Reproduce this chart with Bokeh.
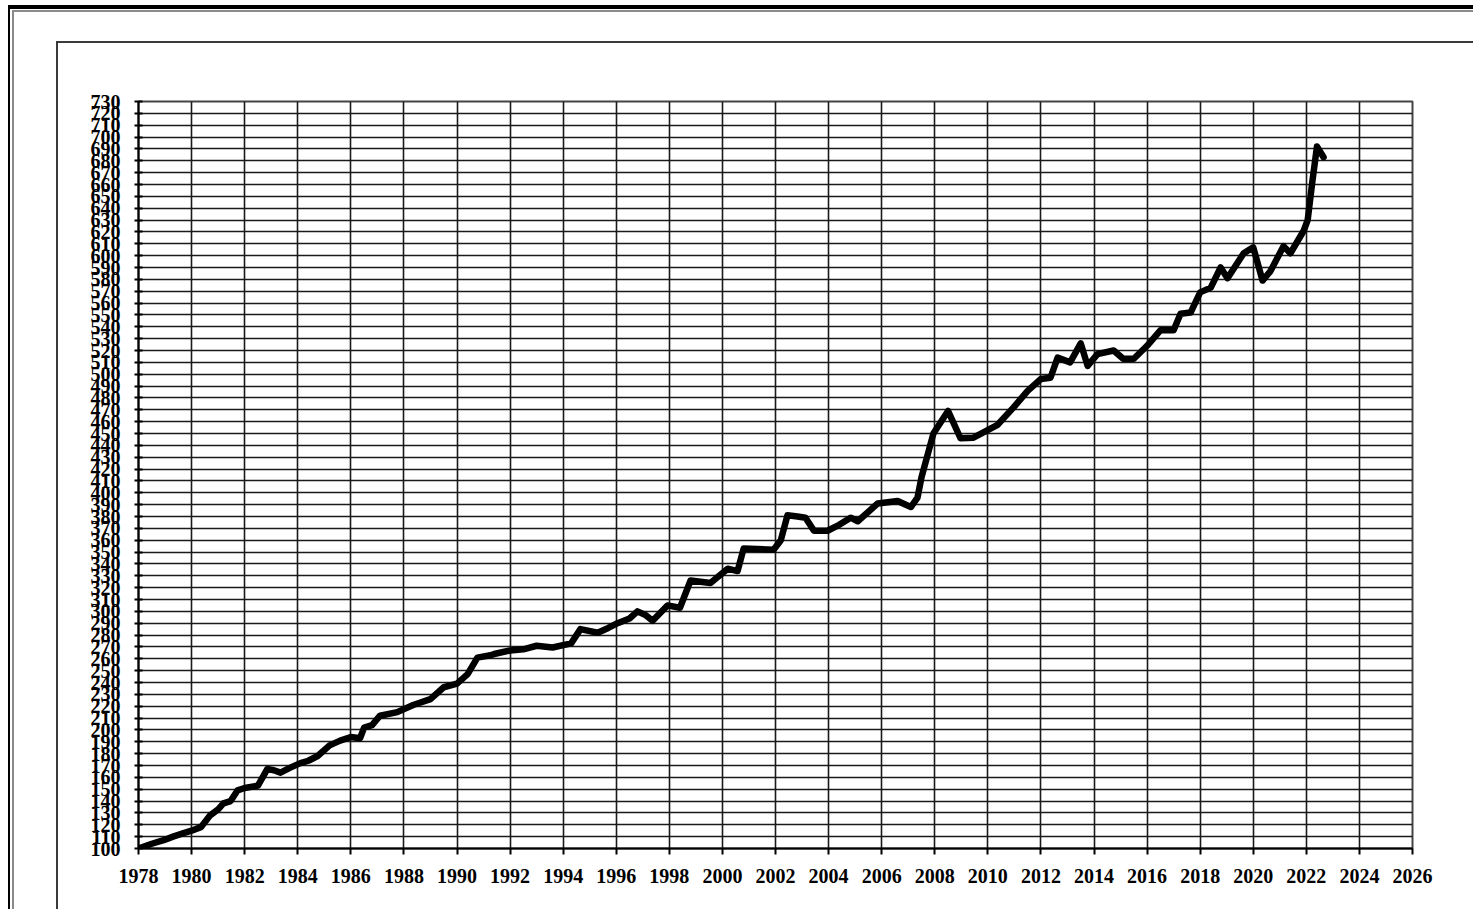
from bokeh.plotting import figure
from bokeh.models import FixedTicker, Range1d, Label
from bokeh.embed import file_html
from bokeh.resources import INLINE

# ---- data ----
years = [1978.0, 1978.5, 1978.95, 1979.3, 1979.7, 1980.0, 1980.35, 1980.7, 1981.0,
         1981.2, 1981.47, 1981.73, 1982.0, 1982.5, 1982.85, 1983.1, 1983.35, 1983.7,
         1984.1, 1984.4, 1984.75, 1985.2, 1985.6, 1986.0, 1986.35, 1986.5, 1986.8,
         1987.1, 1987.75, 1988.35, 1989.0, 1989.5, 1990.0, 1990.4, 1990.77, 1991.26,
         1991.4, 1992.0, 1992.5, 1993.0, 1993.6, 1994.3, 1994.65, 1995.3, 1995.7,
         1996.05, 1996.5, 1996.8, 1997.1, 1997.37, 1997.93, 1998.4, 1998.8, 1999.55,
         2000.2, 2000.57, 2000.8, 2001.93, 2002.2, 2002.45, 2002.83, 2003.13, 2003.45,
         2003.96, 2004.4, 2004.83, 2005.1, 2005.85, 2006.6, 2007.1, 2007.35, 2007.5,
         2007.95, 2008.5, 2008.97, 2009.46, 2010.35, 2010.97, 2011.5, 2012.0, 2012.36,
         2012.63, 2013.1, 2013.5, 2013.76, 2014.13, 2014.74, 2015.1, 2015.5, 2016.0,
         2016.5, 2017.0, 2017.26, 2017.64, 2018.0, 2018.4, 2018.77, 2019.03, 2019.64,
         2020.0, 2020.35, 2020.65, 2021.14, 2021.4, 2021.9, 2022.05, 2022.23, 2022.4,
         2022.65]
index_values = [100, 104, 107, 110, 113, 115, 118, 128, 133,
                138, 140, 149, 151, 153, 167, 166, 164, 168,
                172, 174, 178, 187, 191, 194, 193, 202, 204,
                212, 215, 221, 226, 236, 239, 247, 261, 263,
                264, 267, 268, 271, 269.5, 273, 285, 282, 286,
                290, 294, 300, 297, 292, 305, 303, 326, 324,
                336, 334, 353, 352, 360, 381, 380, 379, 368,
                368, 373, 379, 376, 391, 393, 388, 396, 413,
                450, 469, 446, 446.5, 457, 472, 486, 496, 497,
                514, 510, 526, 507, 517, 520, 513, 513, 524,
                537, 537, 551, 552, 569, 573, 590, 581, 602,
                607, 579, 587, 608, 602, 621, 630, 663, 692,
                683]

x_ticks = list(range(1978, 2027, 2))
y_ticks = list(range(100, 731, 10))
title_text = "Basis 1978.1=100 (Nyt maalinddeværg fra 1.1.2003)"

FONT = "Liberation Serif"

frame_css = ", ".join([
    "inset 8px 5px 0 0 white",
    "inset 10px 9px 0 0 black",
    "inset 12px 10px 0 0 white",
    "inset 14px 12px 0 0 #8a8a8a",
    "inset 56px 41px 0 0 white",
    "inset 58px 43px 0 0 #3a3a3a",
])

p = figure(width=1473, height=909, frame_width=1274, frame_height=747,
           x_range=Range1d(1978, 2026), y_range=Range1d(100, 730),
           output_backend="svg", toolbar_location=None,
           min_border_left=138, min_border_right=61,
           min_border_top=101, min_border_bottom=61,
           styles={"box-shadow": frame_css, "background-color": "white"})

p.background_fill_color = "white"
p.border_fill_color = None
p.outline_line_color = "#444444"
p.outline_line_width = 2

p.xaxis.ticker = FixedTicker(ticks=x_ticks)
p.yaxis.ticker = FixedTicker(ticks=y_ticks)
p.xgrid.ticker = FixedTicker(ticks=x_ticks)
p.ygrid.ticker = FixedTicker(ticks=y_ticks)
for g in (p.xgrid, p.ygrid):
    g.grid_line_color = "#1a1a1a"
    g.grid_line_width = 1.6
    g.grid_line_alpha = 1.0

for ax in (p.xaxis, p.yaxis):
    ax.axis_line_color = "black"
    ax.axis_line_width = 2
    ax.major_tick_line_color = "black"
    ax.major_tick_line_width = 2
    ax.minor_tick_line_color = None
    ax.major_label_text_font = FONT
    ax.major_label_text_font_style = "bold"
    ax.major_label_text_font_size = "20px"
    ax.major_label_text_color = "black"

p.xaxis.major_tick_in = 0
p.xaxis.major_tick_out = 6
p.xaxis.major_label_standoff = 14
p.yaxis.major_tick_in = 4
p.yaxis.major_tick_out = 4
p.yaxis.major_label_standoff = 14

p.line(years, index_values, line_color="black", line_width=6.5,
       line_join="round", line_cap="round")

# title at the very top of the page, mostly cut off by the page edge as in the reference
p.add_layout(Label(x=614, y=843, x_units="screen", y_units="screen",
                   text=title_text, text_font=FONT, text_font_style="bold",
                   text_font_size="22px", text_color="#333333",
                   text_align="center", text_baseline="alphabetic"))

open("out.html", "w").write(file_html(p, INLINE))
